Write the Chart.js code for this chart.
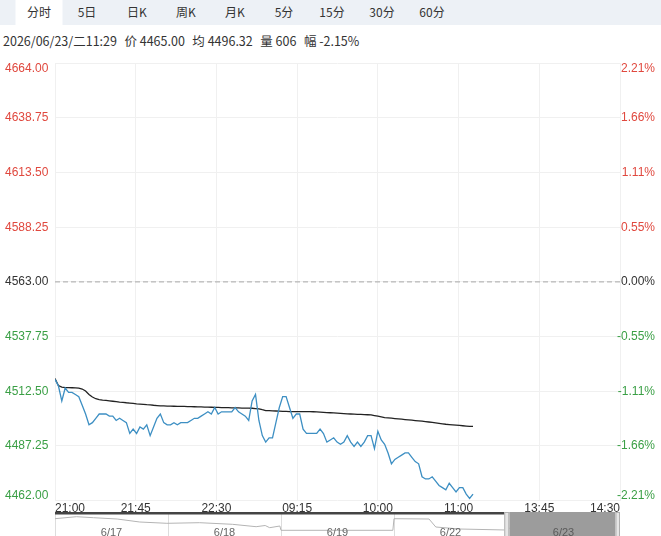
<!DOCTYPE html>
<html>
<head>
<meta charset="utf-8">
<script src="https://cdn.jsdelivr.net/npm/chart.js@4.4.1/dist/chart.umd.min.js"></script>
<style>
    body {
        margin: 0;
        width: 661px;
        height: 536px;
        overflow: hidden;
        background: #ffffff;
        font-family: "Microsoft YaHei", "Noto Sans CJK SC", sans-serif;
        color: #333333;
        position: relative;
    }
    .tabs {
        position: absolute;
        left: 0;
        top: 0;
        width: 661px;
        height: 25px;
        background: #edf1f6;
    }
    .tab {
        position: absolute;
        top: 0;
        height: 25px;
        line-height: 24px;
        font-size: 12px;
        text-align: center;
        transform: translateX(-50%);
        white-space: nowrap;
    }
    .tab.active {
        background: #ffffff;
        width: 47px;
    }
    .info {
        position: absolute;
        left: 3px;
        top: 31px;
        font-size: 12.5px;
        white-space: nowrap;
    }
    .info span {
        margin-right: 7.5px;
    }
    #mainBox {
        position: absolute;
        left: 0;
        top: 50px;
        width: 661px;
        height: 467px;
    }
    #navBox {
        position: absolute;
        left: 0;
        top: 512px;
        width: 661px;
        height: 24px;
    }
</style>
</head>
<body>

<div class="tabs">
    <div class="tab active" style="left:39px">分时</div>
    <div class="tab" style="left:87px">5日</div>
    <div class="tab" style="left:137px">日K</div>
    <div class="tab" style="left:186px">周K</div>
    <div class="tab" style="left:235px">月K</div>
    <div class="tab" style="left:284px">5分</div>
    <div class="tab" style="left:332px">15分</div>
    <div class="tab" style="left:382px">30分</div>
    <div class="tab" style="left:432px">60分</div>
</div>

<div class="info">
    <span>2026/06/23/二11:29</span><span>价 4465.00</span><span>均 4496.32</span><span>量 606</span><span>幅 -2.15%</span>
</div>

<div id="mainBox"><canvas id="fenshiChart"></canvas></div>
<div id="navBox"><canvas id="navChart"></canvas></div>

<script>
// time axis labels, evenly spaced
const timeLabels = ["21:00", "21:45", "22:30", "09:15", "10:00", "11:00", "13:45", "14:30"];
const pointsPerLabel = 23.75;

// price axis
const prevClose = 4563;
const priceTicks = [4664.00, 4638.75, 4613.50, 4588.25, 4563.00, 4537.75, 4512.50, 4487.25, 4462.00];

// price per point
const prices = [
    4518, 4515, 4508, 4514, 4512, 4512, 4511, 4510, 4506, 4502,
    4497, 4498, 4500, 4502, 4502, 4502, 4501, 4501, 4499, 4500,
    4499, 4498, 4493, 4495, 4493, 4496, 4495, 4497, 4492, 4496,
    4500, 4502, 4498, 4497, 4497, 4498, 4497, 4498, 4498, 4498,
    4499, 4500, 4500, 4501, 4502, 4503, 4502, 4505, 4502, 4503,
    4503, 4503, 4503, 4505, 4503, 4502, 4501, 4499, 4508, 4511,
    4499, 4492, 4489, 4491, 4491, 4498, 4505, 4510, 4510, 4505,
    4500, 4502, 4502, 4495, 4493, 4493, 4493, 4493, 4495, 4493,
    4489, 4490, 4491, 4489, 4488, 4489, 4492, 4489, 4487, 4489,
    4487, 4489, 4492, 4492, 4486, 4494, 4490, 4488, 4484, 4479,
    4481, 4482, 4483, 4484, 4484, 4482, 4480, 4479, 4473, 4472,
    4472, 4473, 4471, 4469, 4468, 4467, 4470, 4468, 4466, 4468,
    4468, 4465, 4463, 4465
];

// average price per point
const averages = [
    4518.37, 4515.13, 4514.44, 4514.21, 4514.21, 4514.12, 4514.03, 4513.93, 4513.52, 4512.60,
    4510.98, 4509.83, 4509.04, 4508.67, 4508.44, 4508.25, 4508.07, 4507.88, 4507.70, 4507.51,
    4507.37, 4507.19, 4507.05, 4506.87, 4506.68, 4506.59, 4506.45, 4506.31, 4506.22, 4506.04,
    4505.90, 4505.76, 4505.71, 4505.67, 4505.62, 4505.57, 4505.53, 4505.51, 4505.48, 4505.44,
    4505.39, 4505.35, 4505.30, 4505.25, 4505.21, 4505.16, 4505.11, 4505.07, 4505.02, 4504.97,
    4504.94, 4504.90, 4504.86, 4504.83, 4504.79, 4504.75, 4504.72, 4504.68, 4504.65, 4504.51,
    4504.37, 4503.96, 4503.59, 4503.52, 4503.45, 4503.38, 4503.31, 4503.24, 4503.17, 4503.13,
    4503.12, 4503.11, 4503.10, 4503.09, 4503.08, 4503.07, 4503.03, 4502.94, 4502.85, 4502.76,
    4502.66, 4502.57, 4502.48, 4502.38, 4502.25, 4502.15, 4502.06, 4501.99, 4501.92, 4501.85,
    4501.78, 4501.72, 4501.65, 4501.60, 4501.28, 4500.98, 4500.68, 4500.35, 4500.21, 4500.05,
    4499.89, 4499.75, 4499.59, 4499.43, 4499.29, 4499.13, 4498.97, 4498.83, 4498.67, 4498.51,
    4498.30, 4498.09, 4497.88, 4497.68, 4497.47, 4497.26, 4497.12, 4496.98, 4496.84, 4496.70,
    4496.57, 4496.43, 4496.31, 4496.32
];

// navigator: day labels and a coarse price history (x in days)
const navDayLabels = ["6/17", "6/18", "6/19", "6/22", "6/23"];
const navDays = [0, 0.19, 0.34, 0.55, 0.75, 0.99, 1.28, 1.57, 1.78, 1.86, 1.90, 1.99, 2.0, 2.99, 3.0, 3.31, 3.37, 3.58, 3.99, 4.0, 4.5, 4.95];
const navPrices = [4613, 4633, 4623, 4610, 4580, 4567, 4573, 4557, 4533, 4545, 4523, 4540, 4497, 4497, 4613, 4610, 4530, 4510, 4500, 4518, 4500, 4465];
const navSelection = [4.02, 4.96];

const upColor = "#e0483e";
const downColor = "#3a9f45";
const flatColor = "#333333";
const gridColor = "#f0f0f0";
const labelFont = { family: "Arial, 'Liberation Sans'", size: 12 };
const edgeFont = { family: "Arial, 'Liberation Sans'", size: 12, lineHeight: 0.85 };

const xMax = pointsPerLabel * (timeLabels.length - 1);
const firstTick = priceTicks[0];
const lastTick = priceTicks[priceTicks.length - 1];

function priceColor(value) {
    if (value > prevClose + 0.001) return upColor;
    if (value < prevClose - 0.001) return downColor;
    return flatColor;
}

function setPriceTicks(scale) {
    scale.ticks = priceTicks.map(v => ({ value: v }));
}

// top and bottom labels sit just inside the plot
function edgeLabel(text, value) {
    if (value === firstTick) return ["", text];
    if (value === lastTick) return [text, ""];
    return text;
}

const mainChart = new Chart(document.getElementById("fenshiChart").getContext("2d"), {
    type: "line",
    data: {
        datasets: [
            {
                label: "价格",
                data: prices.map((p, i) => ({ x: i, y: p })),
                borderColor: "#3d8fc3",
                borderWidth: 1.3,
                pointRadius: 0,
                yAxisID: "y"
            },
            {
                label: "均价",
                data: averages.map((p, i) => ({ x: i, y: p })),
                borderColor: "#222222",
                borderWidth: 1.3,
                pointRadius: 0,
                yAxisID: "y"
            },
            {
                label: "昨收",
                data: [{ x: 0, y: prevClose }, { x: xMax, y: prevClose }],
                borderColor: "#a8a8a8",
                borderWidth: 1,
                borderDash: [5, 3],
                pointRadius: 0,
                yAxisID: "y"
            }
        ]
    },
    options: {
        responsive: true,
        maintainAspectRatio: false,
        animation: false,
        layout: {
            padding: { left: 5, right: 6, top: 12, bottom: 0 }
        },
        plugins: {
            legend: { display: false },
            tooltip: { enabled: false }
        },
        scales: {
            x: {
                type: "linear",
                min: 0,
                max: xMax,
                afterBuildTicks: scale => {
                    scale.ticks = timeLabels.map((_, i) => ({ value: i * pointsPerLabel }));
                },
                ticks: {
                    callback: (value, index) => timeLabels[index],
                    align: "inner",
                    autoSkip: false,
                    maxRotation: 0,
                    padding: 1,
                    color: "#333333",
                    font: labelFont
                },
                grid: {
                    color: gridColor,
                    drawTicks: false
                },
                border: { display: false }
            },
            y: {
                position: "left",
                min: lastTick,
                max: firstTick,
                afterBuildTicks: setPriceTicks,
                afterFit: scale => { scale.width = 50; },
                ticks: {
                    crossAlign: "far",
                    callback: value => edgeLabel(value.toFixed(2), value),
                    color: ctx => priceColor(ctx.tick.value),
                    font: edgeFont
                },
                grid: {
                    color: gridColor,
                    drawTicks: false
                },
                border: { display: false }
            },
            yr: {
                position: "right",
                min: lastTick,
                max: firstTick,
                afterBuildTicks: setPriceTicks,
                afterFit: scale => {
                    scale.width = 35;
                    // labels are wider than the box: don't clip the minus sign
                    scale._computeLabelArea = () => undefined;
                },
                ticks: {
                    crossAlign: "far",
                    callback: value => edgeLabel(((value - prevClose) / prevClose * 100).toFixed(2) + "%", value),
                    color: ctx => priceColor(ctx.tick.value),
                    font: edgeFont
                },
                grid: { display: false, drawTicks: false },
                border: { display: false }
            }
        }
    }
});

const area = mainChart.chartArea;

// draws the bar on top, day names and the selected window
const navDecor = {
    id: "navDecor",
    afterDatasetsDraw(chart) {
        const c = chart.ctx;
        const a = chart.chartArea;
        const xs = chart.scales.x;
        const s0 = xs.getPixelForValue(navSelection[0]);
        const s1 = xs.getPixelForValue(navSelection[1]);

        c.save();
        c.fillStyle = "#444444";
        c.fillRect(a.left, a.top - 2, s0 - a.left, 2.5);

        c.font = "11px Arial, 'Liberation Sans'";
        c.textAlign = "center";
        c.textBaseline = "middle";
        c.fillStyle = "#666666";
        navDayLabels.slice(0, -1).forEach((d, i) => {
            c.fillText(d, xs.getPixelForValue(i + 0.5), a.top + 19);
        });

        c.fillStyle = "#9c9c9c";
        c.fillRect(s0, a.top - 2, s1 - s0, a.bottom - a.top + 2);
        c.fillStyle = "#e6e6e6";
        c.strokeStyle = "#b0b0b0";
        c.fillRect(s0 - 5, a.top - 2, 5, a.bottom - a.top + 2);
        c.strokeRect(s0 - 4.5, a.top - 1.5, 4, a.bottom - a.top + 2);
        c.fillRect(s1, a.top - 2, a.right - s1, a.bottom - a.top + 2);
        c.strokeRect(s1 + 0.5, a.top - 1.5, a.right - s1 - 1, a.bottom - a.top + 2);

        c.fillStyle = "#5a5a5a";
        c.fillText(navDayLabels[navDayLabels.length - 1], xs.getPixelForValue(navDayLabels.length - 0.5), a.top + 19);
        c.restore();
    }
};

new Chart(document.getElementById("navChart").getContext("2d"), {
    type: "line",
    data: {
        datasets: [{
            data: navPrices.map((p, i) => ({ x: navDays[i], y: p })),
            borderColor: "#b4b4b4",
            borderWidth: 1,
            pointRadius: 0
        }]
    },
    options: {
        responsive: true,
        maintainAspectRatio: false,
        animation: false,
        layout: {
            padding: { left: area.left, right: 661 - area.right, top: 2, bottom: 0 }
        },
        plugins: {
            legend: { display: false },
            tooltip: { enabled: false }
        },
        scales: {
            x: {
                type: "linear",
                display: true,
                min: 0,
                max: navDayLabels.length,
                afterBuildTicks: scale => {
                    scale.ticks = navDayLabels.map((_, i) => ({ value: i }));
                },
                afterFit: scale => { scale.height = 0; },
                ticks: { display: false },
                grid: { color: "#dddddd", drawTicks: false },
                border: { display: false }
            },
            y: {
                display: false,
                min: 4440,
                max: 4660
            }
        }
    },
    plugins: [navDecor]
});
</script>
</body>
</html>
